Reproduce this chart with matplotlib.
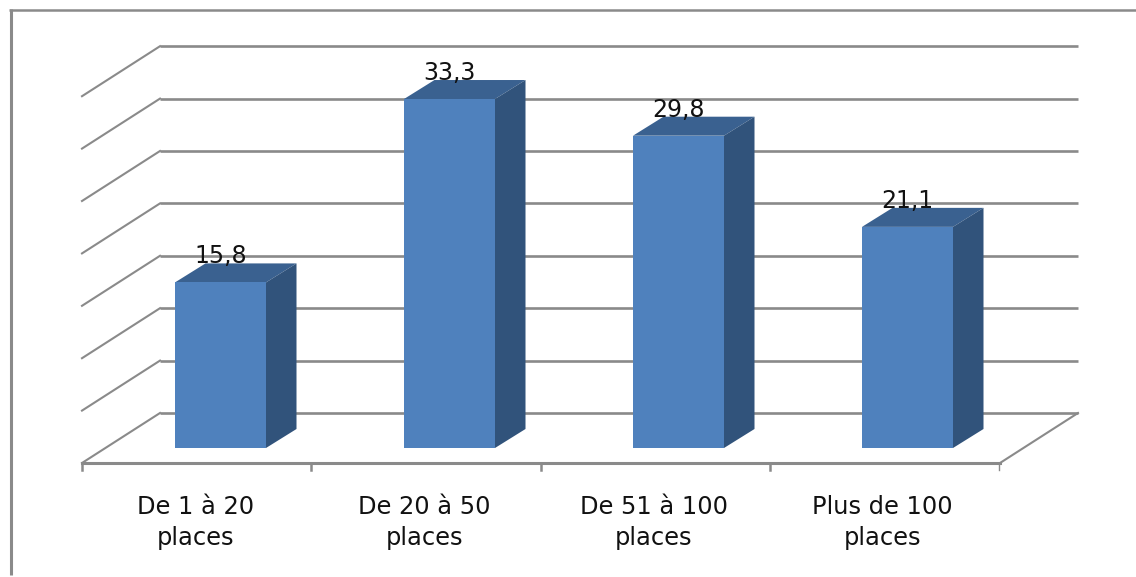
import matplotlib
matplotlib.use("Agg")
import matplotlib.pyplot as plt
from matplotlib.patches import Polygon

categories = ["De 1 à 20\nplaces", "De 20 à 50\nplaces", "De 51 à 100\nplaces", "Plus de 100\nplaces"]
values = [15.8, 33.3, 29.8, 21.1]
labels = ["15,8", "33,3", "29,8", "21,1"]
grid_values = [0, 5, 10, 15, 20, 25, 30, 35]

# echelle : 229 px par categorie, 10.48 px par unite
px_x = 229.0
px_y = 10.48
x0 = 220.5
y0 = 448.0

def dx(p):
    return p / px_x

def dy(p):
    return p / px_y

fig = plt.figure(figsize=(11.36, 5.77), dpi=100)
ax = fig.add_axes([0, 0, 1, 1])
ax.set_xlim(-x0 / px_x, (1136 - x0) / px_x)
ax.set_ylim((y0 - 577) / px_y, y0 / px_y)
ax.axis("off")

gray = "#8a8a8a"
front = "#4f81bd"
side = "#31537b"
top = "#3a6190"

# cadre
ax.plot([dx(10.5 - x0), dx(10.5 - x0)], [dy(y0 - 575), dy(y0 - 9)], color=gray, lw=2.2, solid_capstyle="butt")
ax.plot([dx(9 - x0), dx(1136 - x0)], [dy(y0 - 10), dy(y0 - 10)], color=gray, lw=1.8, solid_capstyle="butt")

# plan du fond : la grille part du bord avant gauche puis file vers la droite
left = dx(82 - x0)
back_l = dx(160 - x0)
back_r = dx(1078 - x0)
front_r = dx(1000 - x0)
floor_front = dy(-15)
floor_back = dy(35)
for g in grid_values:
    ax.plot([left, back_l], [g + floor_front, g + floor_back], color=gray, lw=1.5, zorder=1)
    ax.plot([back_l, back_r], [g + floor_back, g + floor_back], color=gray, lw=1.9, zorder=1,
            solid_capstyle="butt")

# sol et graduations
ax.plot([left, front_r], [floor_front, floor_front], color=gray, lw=2.2, zorder=1)
ax.plot([front_r, back_r], [floor_front, floor_back], color=gray, lw=1.5, zorder=1)
for i in range(len(categories) + 1):
    xt = dx(82 - x0) + i * dx(229.25)
    ax.plot([xt, xt], [floor_front, floor_front - dy(7)], color=gray, lw=1.8 if i < 4 else 1.0, zorder=1)

# barres en fausse 3D
w = dx(91)
ox = dx(30.5)
oy = dy(19)
for i, v in enumerate(values):
    xl = i - w / 2
    xr = i + w / 2
    ax.add_patch(Polygon([(xl, v), (xr, v), (xr + ox, v + oy), (xl + ox, v + oy)], fc=top, ec="none", zorder=3))
    ax.add_patch(Polygon([(xr, 0), (xr + ox, oy), (xr + ox, v + oy), (xr, v)], fc=side, ec="none", zorder=3))
    ax.add_patch(Polygon([(xl, 0), (xr, 0), (xr, v), (xl, v)], fc=front, ec="none", zorder=4))
    ax.text(i, v + dy(19), labels[i], ha="center", va="baseline", fontsize=17,
            color="#111111", zorder=5)

# etiquettes de categories
for i, c in enumerate(categories):
    ax.text(i + dx(-25), floor_front - dy(32), c, ha="center", va="top", fontsize=17.4,
            color="#111111", linespacing=1.38)

fig.savefig("out.png", dpi=100)
